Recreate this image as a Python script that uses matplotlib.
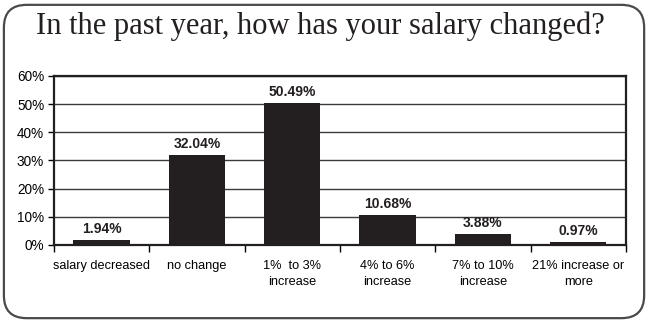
import matplotlib.pyplot as plt
from matplotlib.patches import FancyBboxPatch
import numpy as np

categories = ["salary decreased", "no change", "1%  to 3%\nincrease", "4% to 6%\nincrease",
              "7% to 10%\nincrease", "21% increase or\nmore"]
values = [1.94, 32.04, 50.49, 10.68, 3.88, 0.97]
y_ticks = [0, 10, 20, 30, 40, 50, 60]
title = "In the past year, how has your salary changed?"

fig = plt.figure(figsize=(6.5, 3.23), dpi=100)

# rounded frame round the whole chart
frame = FancyBboxPatch((0.006, 0.015), 0.985, 0.97, boxstyle="round,pad=0,rounding_size=0.035",
                       transform=fig.transFigure, facecolor="none", edgecolor="#4a4a4a",
                       linewidth=1.6, mutation_aspect=2.0, zorder=-1)
fig.patches.append(frame)

fig.text(0.493, 0.92, title, ha="center", va="center", fontsize=22,
         family="Liberation Serif", color="#231f20")

ax = fig.add_axes([0.083, 0.2415, 0.88, 0.5235])
x = np.arange(len(categories))
bars = ax.bar(x, values, width=0.59, color="#231f20", zorder=3)

ax.set_xlim(-0.5, len(categories) - 0.5)
ax.set_ylim(0, 60)
ax.set_yticks(y_ticks)
ax.set_yticklabels(["%d%%" % v for v in y_ticks], family="Liberation Sans", fontsize=9.8)
ax.yaxis.grid(True, color="#3a3a3a", linewidth=1, zorder=0)
ax.tick_params(axis="y", direction="out", length=4, width=1, pad=3)

# ticks between categories, labels in the middle
ax.set_xticks(np.arange(len(categories) + 1) - 0.5)
ax.set_xticklabels([])
ax.set_xticks(x, minor=True)
ax.set_xticklabels(categories, minor=True, family="Liberation Sans", fontsize=9.2,
                   linespacing=1.45)
ax.tick_params(axis="x", which="major", direction="out", length=5, width=1)
ax.tick_params(axis="x", which="minor", length=0, pad=10.5)

for s in ax.spines.values():
    s.set_linewidth(1.6)
    s.set_color("#231f20")

for b, v in zip(bars, values):
    ax.annotate("%.2f%%" % v, (b.get_x() + b.get_width() / 2, v), xytext=(0, 5),
                textcoords="offset points", ha="center", va="baseline",
                fontsize=10, fontweight="bold", family="Liberation Sans", color="#231f20")

fig.savefig("out.png", dpi=100)
